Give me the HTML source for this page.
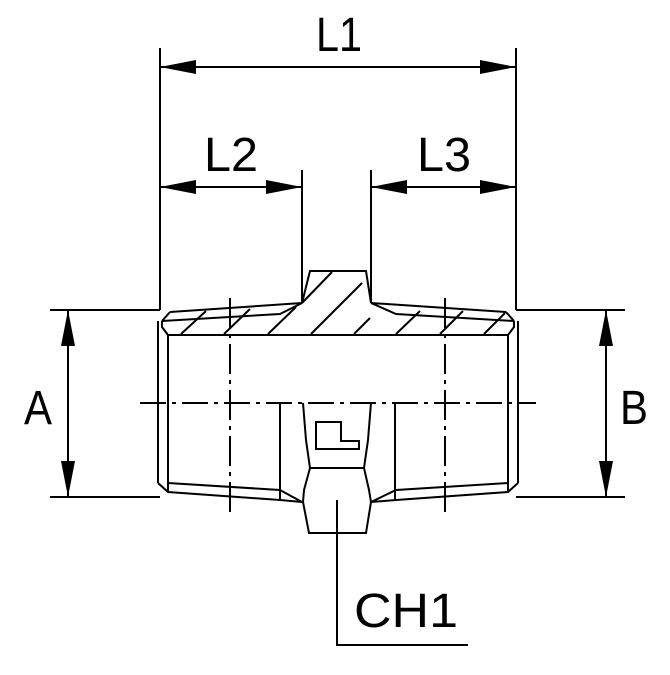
<!DOCTYPE html>
<html><head><style>html,body{margin:0;padding:0;background:#fff}</style></head>
<body>
<svg width="670" height="670" viewBox="0 0 670 670" xmlns="http://www.w3.org/2000/svg">
<defs>
<marker id="ar" viewBox="0 0 36 14" refX="36" refY="7" markerWidth="36" markerHeight="14" markerUnits="userSpaceOnUse" orient="auto-start-reverse">
<path d="M0,0 L36,7 L0,14 Z" fill="#000"/>
</marker>
</defs>
<g stroke="#000" stroke-width="2" fill="none">
<!-- extension lines -->
<line x1="160" y1="48" x2="160" y2="310"/>
<line x1="516" y1="48" x2="516" y2="310"/>
<line x1="302" y1="170" x2="302" y2="303"/>
<line x1="371" y1="170" x2="371" y2="303"/>
<line x1="50" y1="310" x2="160" y2="310"/>
<line x1="50" y1="497" x2="160" y2="497"/>
<line x1="516" y1="310" x2="625" y2="310"/>
<line x1="516" y1="497" x2="625" y2="497"/>
<!-- dimension lines -->
<line x1="160" y1="67" x2="516" y2="67" marker-start="url(#ar)" marker-end="url(#ar)"/>
<line x1="160" y1="187" x2="302" y2="187" marker-start="url(#ar)" marker-end="url(#ar)"/>
<line x1="371" y1="187" x2="516" y2="187" marker-start="url(#ar)" marker-end="url(#ar)"/>
<line x1="68" y1="310" x2="68" y2="497" marker-start="url(#ar)" marker-end="url(#ar)"/>
<line x1="606" y1="310" x2="606" y2="497" marker-start="url(#ar)" marker-end="url(#ar)"/>
<!-- centerlines -->
<line x1="140" y1="403" x2="536" y2="403" stroke-dasharray="26,6,4,6"/>
<line x1="230" y1="298" x2="230" y2="513" stroke-dasharray="30,6,4,6"/>
<line x1="445" y1="298" x2="445" y2="513" stroke-dasharray="30,6,4,6"/>
<!-- top section -->
<path d="M302,303 L310,271 L366,271 L371,303"/>
<path d="M170,312 L302,303 M162,321 L280,314 L302,303 M162,321 L170,312"/>
<path d="M506,312 L371,303 M514,321 L396,314 L371,303 M514,321 L506,312"/>
<path d="M162,321 L162,327 L168,335 L508,335 L514,327 L514,321"/>
<!-- hatching -->
<path d="M181,334 L206,311 M224,334 L250,309 M268,334 L296,307 M311,334 L336,309 L362,283 M354,334 L370,318 M396,334 L420,311 M440,334 L463,311 M484,334 L505,313 M302,303 L332,272"/>
<!-- body sides -->
<line x1="158" y1="321" x2="158" y2="483"/>
<line x1="168" y1="335" x2="168" y2="492"/>
<line x1="518" y1="321" x2="518" y2="483"/>
<line x1="508" y1="335" x2="508" y2="492"/>
<path d="M158,483 L168,492 L280,500 L302,502 M168,483 L280,490 L302,502"/>
<path d="M518,483 L508,492 L396,500 L371,502 M508,483 L396,490 L371,502"/>
<line x1="280" y1="403" x2="280" y2="500"/>
<line x1="395" y1="403" x2="395" y2="500"/>
<!-- hex lower -->
<path d="M303,403 L306,440 L310,468 L304,490 L303,502 L309,533 L366,533 L371,502 L369,490 L364,468 L368,440 L371,403"/>
<line x1="310" y1="468" x2="364" y2="468"/>
<path d="M316,422 L341,422 L341,441 L359,441 L359,449 L316,449 Z"/>
<!-- leader -->
<path d="M337,500 L337,645 L468,645"/>
</g>
<g font-family="Liberation Sans, sans-serif" font-size="48" fill="#000">
<text x="316" y="51" textLength="46" lengthAdjust="spacingAndGlyphs">L1</text>
<text x="204" y="171" textLength="54" lengthAdjust="spacingAndGlyphs">L2</text>
<text x="417" y="171" textLength="54" lengthAdjust="spacingAndGlyphs">L3</text>
<text x="24" y="424" textLength="28" lengthAdjust="spacingAndGlyphs">A</text>
<text x="620" y="424" textLength="28" lengthAdjust="spacingAndGlyphs">B</text>
<text x="354" y="627" textLength="104" lengthAdjust="spacingAndGlyphs">CH1</text>
</g>
</svg>
</body></html>
